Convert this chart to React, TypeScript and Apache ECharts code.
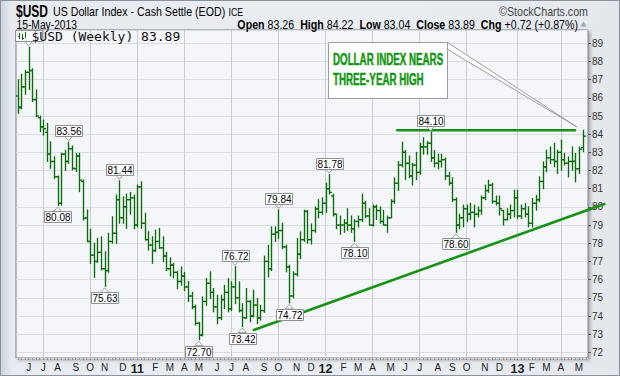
import React, { useEffect, useRef } from 'react';
import * as echarts from 'echarts';

// ---- data (weekly bars, week starting Monday) ----
const FIRST_WEEK_UTC = Date.UTC(2010, 4, 17);
const OPEN = [
  86.1, 85.5, 86.6, 87.4, 87.5, 85.9, 84.9, 84.4, 84.1, 82.9,
  82.5, 81.66, 80.2, 82.9, 82.5, 83.2, 82.1, 82.8, 81.4, 79.4,
  78.1, 77.35, 77.0, 77.5, 76.6, 76.5, 78.1, 78.55, 80.4, 79.4,
  80.0, 80.4, 80.5, 79.0, 81.1, 79.1, 78.2, 77.9, 77.6, 78.1,
  77.75, 77.3, 76.6, 76.8, 76.4, 75.9, 76.2, 75.6, 75.1, 74.5,
  73.6, 72.95, 74.8, 75.8, 75.3, 74.5, 73.9, 74.9, 75.3, 74.4,
  75.6, 75.0, 74.3, 73.9, 74.8, 74.0, 74.6, 73.9, 74.3, 77.0,
  76.6, 78.5, 78.6, 78.7, 77.8, 76.7, 75.1, 76.3, 77.4, 78.2,
  79.75, 78.2, 78.7, 79.9, 79.7, 80.2, 81.0, 80.6, 79.6, 79.0,
  79.0, 79.1, 79.0, 78.8, 79.2, 79.3, 80.2, 79.5, 79.0, 80.0,
  79.8, 79.2, 79.0, 79.4, 80.3, 81.3, 82.3, 83.0, 82.4, 81.7,
  82.3, 81.9, 83.3, 83.3, 83.5, 82.7, 82.4, 82.5, 82.6, 81.7,
  81.3, 80.4, 79.0, 79.4, 79.9, 79.6, 79.7, 79.6, 79.8, 80.5,
  80.9, 81.2, 80.3, 80.2, 79.8, 79.3, 79.6, 79.8, 80.5, 79.5,
  79.9, 79.6, 79.1, 80.2, 80.4, 81.4, 82.2, 82.7, 82.6, 82.5,
  83.0, 82.6, 82.4, 82.5, 82.5, 82.1, 83.26,
];
const HIGH = [
  87.0, 87.3, 87.5, 88.78, 87.6, 86.43, 85.0, 84.78, 84.6, 83.59,
  82.76, 81.7, 82.95, 83.1, 83.56, 83.35, 82.95, 82.95, 81.48, 79.83,
  78.77, 78.0, 78.27, 78.36, 77.54, 78.55, 79.46, 80.65, 81.44, 80.56,
  80.71, 80.8, 80.65, 81.2, 81.39, 79.65, 78.64, 78.36, 78.73, 78.82,
  78.36, 77.5, 77.2, 76.9, 76.45, 76.7, 76.4, 75.9, 75.3, 74.6,
  73.65, 75.05, 76.06, 76.43, 75.51, 75.14, 75.14, 75.69, 76.06, 75.88,
  76.72, 75.88, 74.68, 75.51, 74.85, 75.42, 74.96, 74.59, 77.3, 77.89,
  78.9, 78.9, 79.84, 79.1, 77.9, 76.79, 76.43, 78.26, 78.63, 79.82,
  79.8, 79.07, 80.0, 80.4, 80.5, 81.3, 81.78, 80.7, 79.6, 79.5,
  79.3, 79.9, 79.5, 79.3, 79.5, 80.7, 80.3, 79.9, 80.1, 80.1,
  80.0, 79.8, 79.5, 80.4, 81.6, 82.5, 83.56, 83.1, 82.8, 82.4,
  83.0, 83.5, 83.8, 83.6, 84.1, 83.1, 82.9, 82.9, 82.7, 81.9,
  81.6, 80.5, 79.6, 80.1, 80.1, 80.2, 80.1, 80.0, 80.6, 81.2,
  81.47, 81.3, 80.6, 80.6, 79.82, 79.9, 80.1, 80.92, 80.92, 80.1,
  80.19, 80.0, 80.46, 80.64, 81.65, 82.48, 83.12, 83.3, 83.49, 83.12,
  83.67, 82.94, 82.75, 83.3, 82.94, 83.3, 84.22,
];
const LOW = [
  85.15, 85.4, 86.2, 86.45, 85.8, 84.96, 84.14, 83.95, 82.5, 82.12,
  81.57, 80.08, 80.1, 82.0, 82.4, 82.03, 81.94, 80.84, 79.28, 78.09,
  76.9, 76.13, 76.95, 76.53, 75.63, 76.4, 78.0, 78.0, 79.1, 79.1,
  78.82, 79.6, 78.8, 78.9, 78.82, 78.18, 77.63, 76.9, 77.54, 77.72,
  76.99, 76.5, 76.2, 76.1, 75.5, 75.7, 75.4, 74.8, 74.4, 73.5,
  72.7, 72.9, 74.59, 74.96, 74.23, 73.58, 73.8, 74.41, 74.23, 74.3,
  74.68, 74.23, 73.42, 73.86, 73.68, 73.95, 73.58, 73.77, 74.2, 76.15,
  76.5, 78.1, 78.26, 77.71, 76.43, 74.72, 75.0, 76.2, 77.16, 78.1,
  78.0, 77.96, 78.6, 79.4, 79.6, 79.7, 80.7, 79.5, 78.8, 78.5,
  78.6, 78.7, 78.6, 78.1, 78.9, 79.2, 79.4, 79.0, 78.95, 79.3,
  79.1, 79.0, 78.6, 79.4, 80.2, 80.9, 82.2, 81.5, 81.6, 81.2,
  81.5, 81.8, 82.9, 82.9, 82.5, 82.2, 82.1, 82.2, 81.5, 81.2,
  80.3, 78.6, 78.8, 78.9, 79.2, 79.3, 78.9, 79.45, 79.6, 80.4,
  80.8, 80.2, 80.1, 79.55, 79.0, 79.27, 79.36, 79.45, 79.36, 79.36,
  79.45, 78.9, 78.9, 79.82, 80.28, 81.0, 81.93, 82.39, 82.2, 81.84,
  82.02, 82.3, 81.65, 82.02, 81.38, 81.84, 83.04,
];
const CLOSE = [
  85.45, 86.6, 87.4, 87.5, 85.9, 85.0, 84.4, 84.3, 82.9, 82.5,
  81.66, 80.2, 82.9, 82.5, 83.2, 82.12, 82.8, 81.48, 79.37, 78.1,
  77.35, 77.0, 77.5, 76.6, 76.5, 78.1, 78.55, 80.4, 79.4, 80.0,
  80.4, 80.5, 79.0, 81.1, 79.1, 78.2, 77.9, 77.6, 78.1, 77.75,
  77.3, 76.6, 76.8, 76.4, 75.9, 76.2, 75.6, 75.1, 74.5, 73.6,
  72.95, 74.8, 75.8, 75.3, 74.5, 73.9, 74.9, 75.3, 74.4, 75.6,
  75.0, 74.3, 73.9, 74.8, 74.0, 74.6, 73.9, 74.3, 77.0, 76.6,
  78.5, 78.6, 78.7, 77.8, 76.7, 75.1, 76.3, 77.4, 78.2, 79.75,
  78.2, 78.7, 79.9, 79.7, 80.2, 81.0, 80.8, 79.6, 79.0, 79.0,
  79.1, 79.0, 78.8, 79.2, 79.3, 80.2, 79.5, 79.0, 80.0, 79.8,
  79.2, 79.0, 79.4, 80.3, 81.3, 82.3, 83.0, 82.4, 81.7, 82.3,
  81.9, 83.3, 83.3, 83.5, 82.7, 82.4, 82.5, 82.6, 81.7, 81.3,
  80.4, 79.0, 79.4, 79.9, 79.6, 79.7, 79.6, 79.8, 80.5, 80.9,
  81.2, 80.3, 80.2, 79.9, 79.3, 79.6, 79.8, 80.5, 79.5, 79.9,
  79.6, 79.1, 80.2, 80.4, 81.4, 82.2, 82.7, 82.6, 82.5, 83.0,
  82.6, 82.4, 82.5, 82.5, 82.1, 83.17, 83.89,
];
const MONTH_LETTERS = ['J', 'F', 'M', 'A', 'M', 'J', 'J', 'A', 'S', 'O', 'N', 'D'];
const QUARTER_MONTHS = [0, 3, 6, 9];
const HIGH_LABEL_WEEKS = [3, 14, 28, 60, 72, 86, 114];
const LOW_LABEL_WEEKS = [11, 24, 50, 62, 75, 93, 121];
const HIDDEN_LABEL_WEEKS = [3];
// [startWeek, startPrice, endWeek, endPrice]
const TREND_LINES = [
  [65.2, 73.23, 162.0, 80.16],
  [104.8, 84.22, 153.9, 84.22],
];
const SYMBOL = '$USD';
const NAME = 'US Dollar Index - Cash Settle (EOD)';
const EXCHANGE = 'ICE';
const DATE_TEXT = '15-May-2013';
const CALLOUT_LINES = ['DOLLAR INDEX NEARS', 'THREE-YEAR HIGH'];

const N = OPEN.length;
const CAT_COUNT = N + 1;
const DATES = Array.from({ length: CAT_COUNT }, (_, i) => new Date(FIRST_WEEK_UTC + i * 7 * 86400000));
const CATS = DATES.map((d) => d.toISOString().slice(0, 10));
const isMonthStart = (i: number) => !!DATES[i] && DATES[i].getUTCDate() <= 7;
const isQuarterStart = (i: number) => isMonthStart(i) && QUARTER_MONTHS.indexOf(DATES[i].getUTCMonth()) >= 0;

const SANS = "'Liberation Sans', Arial, sans-serif";
const MONO = "'DejaVu Sans Mono', 'Liberation Mono', monospace";
const BAR_GREEN = '#0b6b0b';
const LINE_GREEN = '#169316';
const CALLOUT_GREEN = '#119611';

// condensed text helper (no narrow font installed): scale horizontally
const ntext = (text: string, x: number, y: number, font: string, sx: number, extra: any = {}, z = 10) => ({
  type: 'text', z, x, y, scaleX: sx, silent: true,
  style: { text, x: 0, y: 0, textVerticalAlign: 'middle', font, fill: '#000', ...extra },
});

export default function App() {
  const ref = useRef<HTMLDivElement>(null);
  useEffect(() => {
    if (!ref.current) return;
    const chart = echarts.init(ref.current, null, { renderer: 'svg' });

    const ohlcData = OPEN.map((o, i) => [i, o, HIGH[i], LOW[i], CLOSE[i]]);
    const labelData = [
      ...HIGH_LABEL_WEEKS.map((i) => [i, HIGH[i], 1, HIDDEN_LABEL_WEEKS.indexOf(i) >= 0 ? 0 : 1]),
      ...LOW_LABEL_WEEKS.map((i) => [i, LOW[i], -1, HIDDEN_LABEL_WEEKS.indexOf(i) >= 0 ? 0 : 1]),
    ];
    const lineData = TREND_LINES.map((t) => [0, t[1], t[0], t[2], t[3]]);

    const last = N - 1;
    const chg = CLOSE[last] - CLOSE[last - 1];
    const pct = (chg / CLOSE[last - 1]) * 100;
    const sign = chg >= 0 ? '+' : '';
    const quote =
      `{b|Open} ${OPEN[last].toFixed(2)}  {b|High} ${HIGH[last].toFixed(2)}  {b|Low} ${LOW[last].toFixed(2)}  ` +
      `{b|Close} ${CLOSE[last].toFixed(2)}  {b|Chg} ${sign}${chg.toFixed(2)} (${sign}${pct.toFixed(2)}%)`;

    const option: any = {
      animation: false,
      grid: {
        left: 16, right: 32, top: 30, bottom: 18,
        show: true,
        backgroundColor: '#f5f6f9',
        borderColor: '#7a7e86',
        borderWidth: 1,
        shadowColor: 'rgba(0,0,0,0.28)',
        shadowBlur: 3,
        shadowOffsetX: 2,
        shadowOffsetY: 2,
      },
      xAxis: {
        type: 'category',
        data: CATS,
        boundaryGap: true,
        axisLine: { show: false },
        axisTick: {
          show: true, interval: 0, alignWithLabel: true, length: 2,
          lineStyle: { color: '#8d9098' },
        },
        axisLabel: {
          interval: (idx: number) => isMonthStart(idx),
          formatter: (_v: string, idx: number) => {
            const d = DATES[idx];
            const m = d.getUTCMonth();
            return m === 0 ? `{y|${String(d.getUTCFullYear()).slice(2)}}` : MONTH_LETTERS[m];
          },
          margin: 4,
          color: '#222',
          fontFamily: SANS,
          fontSize: 10,
          rich: { y: { fontFamily: SANS, fontWeight: 'bold', fontSize: 12.5, color: '#222' } },
        },
        splitLine: {
          show: true,
          interval: (idx: number) => isQuarterStart(idx),
          alignWithLabel: true,
          lineStyle: { color: '#c8ccd3', width: 1 },
        },
      },
      yAxis: {
        type: 'value',
        position: 'right',
        min: 71.69,
        max: 89.73,
        splitNumber: 18,
        axisLine: { show: false },
        axisTick: { show: true, length: 3, lineStyle: { color: '#555' } },
        axisLabel: {
          showMinLabel: false,
          showMaxLabel: false,
          margin: 4,
          color: '#333',
          fontFamily: SANS,
          fontSize: 10,
          formatter: (v: number) => (Math.abs(v - Math.round(v)) < 1e-6 ? String(Math.round(v)) : ''),
        },
        splitLine: { show: true, lineStyle: { color: '#d9dce3', width: 1 } },
      },
      series: [
        {
          type: 'custom',
          name: 'ohlc',
          z: 2,
          encode: { x: 0, y: [1, 2, 3, 4] },
          data: ohlcData,
          renderItem: (_p: any, api: any) => {
            const i = api.value(0);
            const pH = api.coord([i, api.value(2)]);
            const yL = api.coord([i, api.value(3)])[1];
            const yO = api.coord([i, api.value(1)])[1];
            const yC = api.coord([i, api.value(4)])[1];
            const x = Math.round(pH[0]) + 0.5;
            const style = { stroke: BAR_GREEN, lineWidth: 1.35 };
            return {
              type: 'group',
              children: [
                { type: 'line', shape: { x1: x, y1: pH[1] - 0.5, x2: x, y2: yL + 0.5 }, style },
                { type: 'line', shape: { x1: x - 2.5, y1: yO, x2: x, y2: yO }, style },
                { type: 'line', shape: { x1: x, y1: yC, x2: x + 2.5, y2: yC }, style },
              ],
            };
          },
        },
        {
          type: 'custom',
          name: 'lines',
          z: 3,
          encode: { x: 0, y: 1 },
          data: lineData,
          renderItem: (_p: any, api: any) => {
            const a0 = api.coord([0, api.value(1)]);
            const a1 = api.coord([1, api.value(1)]);
            const step = a1[0] - a0[0];
            const y2 = api.coord([0, api.value(4)])[1];
            return {
              type: 'line',
              shape: { x1: a0[0] + api.value(2) * step, y1: a0[1], x2: a0[0] + api.value(3) * step, y2 },
              style: { stroke: LINE_GREEN, lineWidth: 2.6, lineCap: 'round' },
            };
          },
        },
        {
          type: 'custom',
          name: 'labels',
          z: 4,
          encode: { x: 0, y: 1 },
          data: labelData,
          renderItem: (_p: any, api: any) => {
            const i = api.value(0);
            const v = api.value(1);
            const dir = api.value(2);
            const show = api.value(3);
            const p = api.coord([i, v]);
            const W = 27;
            const H = 11;
            const x = p[0];
            const tip = dir > 0 ? p[1] - 1.5 : p[1] + 1.5;
            const boxY = dir > 0 ? tip - 4.5 - H : tip + 4.5;
            const edge = dir > 0 ? boxY + H : boxY;
            const bx = Math.round(x - W / 2) + 0.5;
            const by = Math.round(boxY) + 0.5;
            const children: any[] = [
              {
                type: 'polygon',
                shape: { points: [[x - 4, edge], [x, tip], [x + 4, edge]] },
                style: { fill: '#ffffff', stroke: '#9a9ca2', lineWidth: 1 },
              },
              {
                type: 'rect',
                shape: { x: bx, y: by, width: W, height: H },
                style: { fill: '#ffffff', stroke: '#8e9096', lineWidth: 1 },
              },
            ];
            if (show) {
              children.push({
                type: 'text',
                style: {
                  text: v.toFixed(2), x: bx + W / 2, y: by + H / 2 + 0.5,
                  textAlign: 'center', textVerticalAlign: 'middle',
                  font: `10px ${SANS}`, fill: '#000',
                },
              });
            }
            return { type: 'group', children };
          },
        },
      ],
      graphic: [
        { type: 'rect', z: 0, silent: true, shape: { x: 0.5, y: 0.5, width: 619, height: 375 }, style: { fill: 'none', stroke: '#8c929b', lineWidth: 1 } },
        ntext(SYMBOL, 16, 11, `bold 16px ${SANS}`, 0.75),
        ntext(NAME, 53, 11.5, `13px ${SANS}`, 0.82),
        ntext(EXCHANGE, 228.5, 12, `11px ${SANS}`, 0.8),
        ntext('\u00a9StockCharts.com', 588, 11.5, `13px ${SANS}`, 0.82, { textAlign: 'right', fill: '#444' }),
        ntext(DATE_TEXT, 16.5, 24.5, `13px ${SANS}`, 0.79),
        ntext(quote, 578, 24.5, `13px ${SANS}`, 0.82, {
          textAlign: 'right',
          rich: { b: { fontFamily: SANS, fontSize: 13, fontWeight: 'bold', fill: '#000' } },
        }),
        { type: 'polygon', z: 10, shape: { points: [[580.5, 26.5], [586.5, 26.5], [583.5, 21.5]] }, style: { fill: '#a0a4ab' } },
        // legend
        { type: 'line', z: 10, shape: { x1: 19.5, y1: 33, x2: 19.5, y2: 39 }, style: { stroke: BAR_GREEN, lineWidth: 1 } },
        { type: 'line', z: 10, shape: { x1: 22.5, y1: 34, x2: 22.5, y2: 40 }, style: { stroke: BAR_GREEN, lineWidth: 1 } },
        { type: 'line', z: 10, shape: { x1: 25.5, y1: 32, x2: 25.5, y2: 38 }, style: { stroke: BAR_GREEN, lineWidth: 1 } },
        { type: 'line', z: 10, shape: { x1: 18, y1: 36.5, x2: 19.5, y2: 36.5 }, style: { stroke: BAR_GREEN, lineWidth: 1 } },
        { type: 'line', z: 10, shape: { x1: 22.5, y1: 38.5, x2: 24, y2: 38.5 }, style: { stroke: BAR_GREEN, lineWidth: 1 } },
        { type: 'text', z: 10, style: { text: `${SYMBOL} (Weekly) ${CLOSE[last].toFixed(2)}`, x: 31.5, y: 36, textVerticalAlign: 'middle', font: `13px ${MONO}`, fill: '#111' } },
        // callout
        { type: 'polygon', z: 11, shape: { points: [[436, 42.5], [447.5, 42.5], [577, 127]] }, style: { fill: '#ffffff', stroke: '#9a9ca2', lineWidth: 1 } },
        { type: 'rect', z: 12, shape: { x: 328.5, y: 42.5, width: 119, height: 56 }, style: { fill: '#ffffff', stroke: '#9a9ca2', lineWidth: 1 } },
        ntext(CALLOUT_LINES[0], 333, 59, `bold 17px ${SANS}`, 0.575, { fill: CALLOUT_GREEN, stroke: CALLOUT_GREEN, lineWidth: 0.5 }, 13),
        ntext(CALLOUT_LINES[1], 333, 78.5, `bold 17px ${SANS}`, 0.575, { fill: CALLOUT_GREEN, stroke: CALLOUT_GREEN, lineWidth: 0.5 }, 13),
      ],
    };
    chart.setOption(option);
    return () => chart.dispose();
  }, []);
  return (
    <div
      ref={ref}
      style={{
        position: 'absolute', left: 0, top: 0, width: 620, height: 376,
        background: 'linear-gradient(90deg, #cdd3dc 0px, #e7ebf0 12px, #eaedf1 60%, #e4e8ed 100%)',
      }}
    />
  );
}
